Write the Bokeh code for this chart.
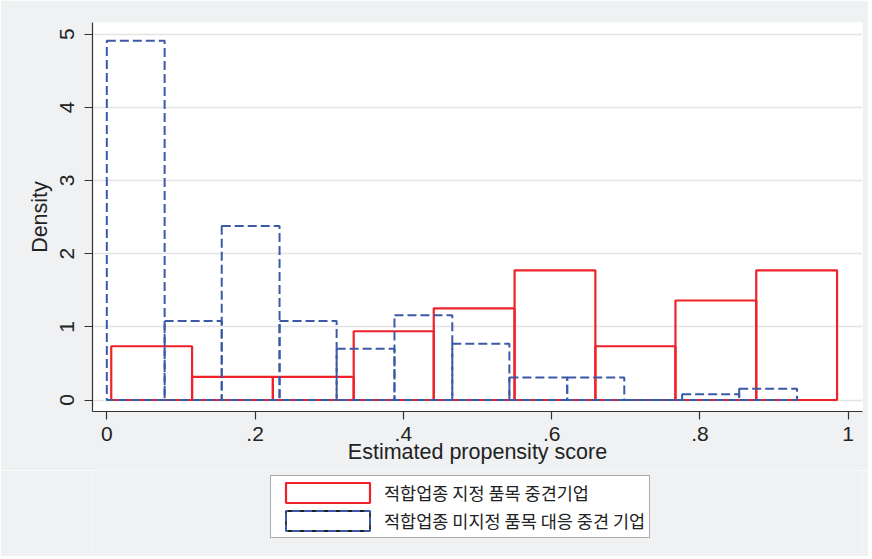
from bokeh.plotting import figure
from bokeh.layouts import column
from bokeh.models import Range1d, FixedTicker, Legend, LegendItem, ColumnDataSource
from bokeh.embed import file_html
from bokeh.resources import INLINE

# ---- data ----
red_edges = [0.006, 0.115, 0.224, 0.333, 0.441, 0.550, 0.659, 0.767, 0.876, 0.985]
red_density = [0.735, 0.315, 0.315, 0.940, 1.253, 1.772, 0.735, 1.360, 1.772]
blue_edges = [0.000, 0.078, 0.155, 0.233, 0.310, 0.388, 0.466, 0.543, 0.621,
              0.698, 0.776, 0.853, 0.931]
blue_density = [4.91, 1.08, 2.38, 1.08, 0.70, 1.16, 0.77, 0.307, 0.307, 0.0, 0.08, 0.155]
x_ticks = [0, 0.2, 0.4, 0.6, 0.8, 1.0]
x_tick_labels = ["0", ".2", ".4", ".6", ".8", "1"]
y_ticks = [0, 1, 2, 3, 4, 5]
series_labels = ["적합업종 지정 품목 중견기업", "적합업종 미지정 품목 대응 중견 기업"]

RED = "#ee2228"
BLUE = "#3b59a7"
BG = "#f0f1f3"
FONT = "Liberation Sans"

p = figure(output_backend="svg", toolbar_location=None,
           x_range=Range1d(-0.0193, 1.0193), y_range=Range1d(-0.157, 5.16),
           width=868, height=470,
           min_border_left=92, min_border_top=22, min_border_right=6, min_border_bottom=59)
p.background_fill_color = "white"
p.border_fill_color = BG
p.outline_line_color = None

red_src = ColumnDataSource(dict(left=red_edges[:-1], right=red_edges[1:],
                                top=red_density, bottom=[0] * len(red_density)))
blue_src = ColumnDataSource(dict(left=blue_edges[:-1], right=blue_edges[1:],
                                 top=blue_density, bottom=[0] * len(blue_density)))

p.quad(left="left", right="right", top="top", bottom="bottom", source=red_src,
       fill_alpha=0, line_color=RED, line_width=2.2)
p.quad(left="left", right="right", top="top", bottom="bottom", source=blue_src,
       fill_alpha=0, line_color=BLUE, line_width=2.0, line_dash="9 4")

# axes
p.xaxis.ticker = FixedTicker(ticks=x_ticks)
p.xaxis.major_label_overrides = {t: l for t, l in zip(x_ticks, x_tick_labels)}
p.yaxis.ticker = FixedTicker(ticks=y_ticks)
for ax in (p.xaxis, p.yaxis):
    ax.axis_line_color = "#333333"
    ax.axis_line_width = 1.2
    ax.major_tick_line_color = "#333333"
    ax.major_tick_line_width = 1.2
    ax.major_tick_in = 0
    ax.major_tick_out = 8
    ax.minor_tick_line_color = None
    ax.major_label_text_font = FONT
    ax.major_label_text_font_size = "21px"
    ax.major_label_text_color = "#222222"
    ax.axis_label_text_font = FONT
    ax.axis_label_text_font_size = "21.5px"
    ax.axis_label_text_font_style = "normal"
    ax.axis_label_text_color = "#222222"
p.xaxis.axis_label = "Estimated propensity score"
p.yaxis.axis_label = "Density"
p.xaxis.major_label_standoff = 7
p.xaxis.axis_label_standoff = -4
p.yaxis.major_label_orientation = "vertical"
p.yaxis.major_label_standoff = 10
p.yaxis.axis_label_standoff = 6

p.xgrid.grid_line_color = None
p.ygrid.grid_line_color = "#e4e4e4"
p.ygrid.grid_line_width = 1.5

# ---- legend strip below the plot (keys reuse the same series, kept out of view) ----
lg = figure(output_backend="svg", toolbar_location=None, width=868, height=86,
            x_range=Range1d(0, 1), y_range=Range1d(100, 101),
            x_axis_type=None, y_axis_type=None, min_border=0)
lg.grid.grid_line_color = None
lg.outline_line_color = None
lg.background_fill_color = BG
lg.border_fill_color = BG

k_red = lg.quad(left="left", right="right", top="top", bottom="bottom", source=red_src,
                fill_alpha=0, line_color=RED, line_width=2.2)
k_blk = lg.quad(left="left", right="right", top="top", bottom="bottom", source=blue_src,
                fill_alpha=0, line_color="#222222", line_width=1.8, line_dash="8 4")
k_blue = lg.quad(left="left", right="right", top="top", bottom="bottom", source=blue_src,
                 fill_alpha=0, line_color=BLUE, line_width=2.0, line_dash="8 4",
                 line_dash_offset=6)

legend = Legend(items=[LegendItem(label=series_labels[0], renderers=[k_red]),
                       LegendItem(label=series_labels[1], renderers=[k_blk, k_blue])],
                location=(178, 18), orientation="vertical",
                glyph_width=105, glyph_height=25, label_standoff=4,
                padding=4, spacing=3, margin=0,
                border_line_color="#555555", border_line_width=1.5,
                background_fill_color="white", background_fill_alpha=1,
                label_text_font="Noto Sans CJK KR", label_text_font_size="17.5px",
                label_text_color="#222222")
lg.add_layout(legend, "center")

layout = column(p, lg, spacing=0)
open("out.html", "w").write(file_html(layout, INLINE))
